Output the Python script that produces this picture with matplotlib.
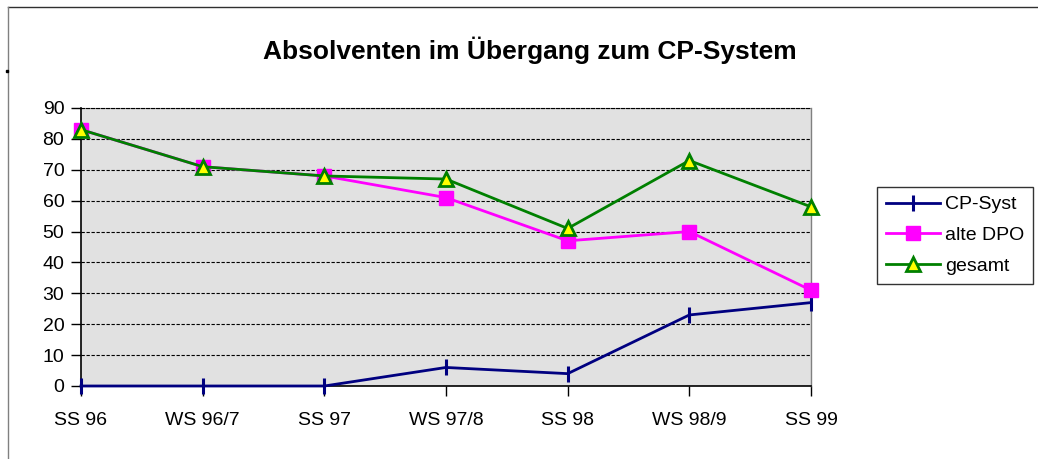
import matplotlib
matplotlib.use("Agg")
import matplotlib.pyplot as plt
from matplotlib.lines import Line2D

plt.rcParams['font.family'] = ['Liberation Sans', 'DejaVu Sans']

categories = ["SS 96", "WS 96/7", "SS 97", "WS 97/8", "SS 98", "WS 98/9", "SS 99"]
cp_syst = [0, 0, 0, 6, 4, 23, 27]
alte_dpo = [83, 71, 68, 61, 47, 50, 31]
gesamt = [83, 71, 68, 67, 51, 73, 58]
yticks = [0, 10, 20, 30, 40, 50, 60, 70, 80, 90]

W, H = 1038, 459
fig = plt.figure(figsize=(W / 100, H / 100), dpi=100)
fig.patch.set_facecolor("white")

left, right, top, bottom = 81, 811, 108, 386
ax = fig.add_axes([left / W, 1 - bottom / H, (right - left) / W, (bottom - top) / H])
ax.set_facecolor("#e1e1e1")

x = list(range(len(categories)))
ax.plot(x, cp_syst, color="#000080", lw=2, marker="|", ms=12, mew=2.2,
        label="CP-Syst", zorder=3, clip_on=False)
ax.plot(x, alte_dpo, color="#ff00ff", lw=2, marker="s", ms=10,
        mfc="#ff00ff", mec="#ff00ff", label="alte DPO", zorder=4, clip_on=False)
ax.plot(x, gesamt, color="#008000", lw=2, marker="^", ms=10, mew=2,
        mfc="#ffff00", mec="#008000", label="gesamt", zorder=5, clip_on=False)

ax.set_xlim(0, len(categories) - 1)
ax.set_ylim(0, 90)
ax.set_yticks(yticks)
ax.set_xticks(x)
ax.set_xticklabels(categories)
ax.yaxis.grid(True, linestyle=(0, (3, 1.5)), color="black", lw=0.8)
ax.set_axisbelow(True)
ax.tick_params(axis="both", direction="out", length=7, width=1, labelsize=14, colors="black")
ax.tick_params(axis="x", pad=12)
ax.tick_params(axis="y", pad=5)
for s in ["left", "bottom"]:
    ax.spines[s].set_color("black")
    ax.spines[s].set_linewidth(1.2)
ax.spines["right"].set_color("#808080")
ax.spines["right"].set_linewidth(1)
ax.spines["top"].set_linestyle((0, (3, 1.5)))
ax.spines["top"].set_color("black")
ax.spines["top"].set_linewidth(0.8)

fig.text(530 / W, 1 - 50 / H, "Absolventen im Übergang zum CP-System",
         ha="center", va="center", fontsize=19, fontweight="bold")

leg = fig.legend(loc="upper left", bbox_to_anchor=(877 / W, 1 - 187 / H),
                 frameon=True, fancybox=False, edgecolor="black", fontsize=14,
                 handlelength=2.8, borderpad=0.45, labelspacing=0.68,
                 handletextpad=0.25, borderaxespad=0)
leg.get_frame().set_linewidth(1)

fig.add_artist(Line2D([8 / W, 1], [1 - 7 / H, 1 - 7 / H], color="#303030", lw=1,
                      transform=fig.transFigure))
fig.add_artist(Line2D([8 / W, 8 / W], [1 - 7 / H, 0], color="#808080", lw=1,
                      transform=fig.transFigure))
fig.add_artist(Line2D([7 / W], [1 - 71 / H], marker="s", ms=1.5, color="black",
                      transform=fig.transFigure))

fig.savefig("out.png", dpi=100)
